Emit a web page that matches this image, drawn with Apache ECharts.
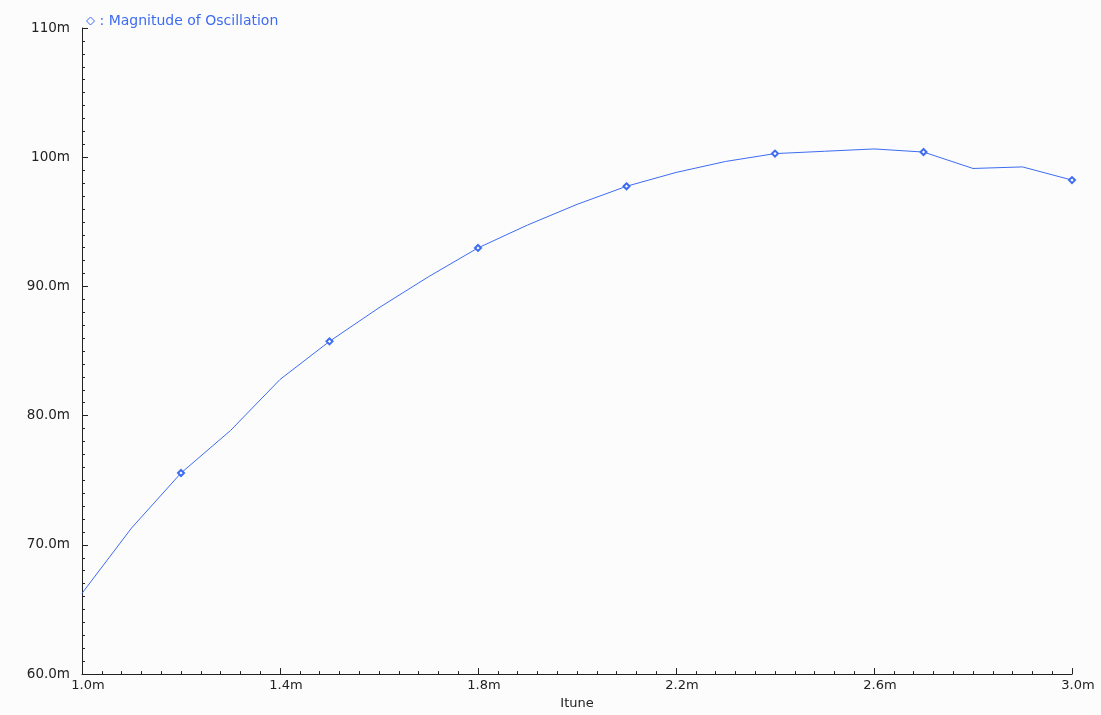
<!DOCTYPE html>
<html>
<head>
<meta charset="utf-8">
<script src="https://cdn.jsdelivr.net/npm/echarts@6/dist/echarts.min.js"></script>
<style>
  html, body { margin: 0; padding: 0; background: #fcfcfc; }
  #chart { width: 1101px; height: 715px; }
</style>
</head>
<body>
<div id="chart"></div>
<script>
// Tuning current (mA) swept from 1.0m to 3.0m
const itune = [1.0, 1.1, 1.2, 1.3, 1.4, 1.5, 1.6, 1.7, 1.8, 1.9, 2.0,
               2.1, 2.2, 2.3, 2.4, 2.5, 2.6, 2.7, 2.8, 2.9, 3.0];
// Oscillation magnitude (m units)
const magnitude = [66.25, 71.3, 75.56, 78.85, 82.8, 85.75, 88.35, 90.75, 92.98, 94.75, 96.35,
                   97.75, 98.82, 99.67, 100.28, 100.46, 100.64, 100.4, 99.13, 99.25, 98.23];
// Sweep points that carry a diamond marker
const markedItune = [1.2, 1.5, 1.8, 2.1, 2.4, 2.7, 3.0];
// Axis tick positions
const xMajorTicks = [1.0, 1.4, 1.8, 2.2, 2.6, 3.0];
const xMinorStep = 0.04;
const yTicks = [60, 70, 80, 90, 100, 110];

const seriesName = 'Magnitude of Oscillation';
const blue = '#3d6cf2';
const ink = '#222222';

const xMinorTicks = [];
for (let i = 0; i <= 50; i++) xMinorTicks.push(+(1.0 + i * xMinorStep).toFixed(2));

const points = itune.map((x, i) => [x, magnitude[i]]);
const isMarked = x => markedItune.some(m => Math.abs(m - x) < 1e-9);

const fmtX = v => v.toFixed(1) + 'm';
const fmtY = v => (v >= 100 ? v.toFixed(0) : v.toFixed(1)) + 'm';

const chart = echarts.init(document.getElementById('chart'), null, { renderer: 'canvas' });
chart.setOption({
  backgroundColor: '#fcfcfc',
  animation: false,
  textStyle: { fontFamily: 'DejaVu Sans', color: ink },
  grid: { left: 82, right: 29, top: 28, bottom: 37, containLabel: false },
  legend: {
    left: 81, top: 9,
    itemWidth: 8, itemHeight: 8,
    icon: 'path://M1,0L2,1L1,2L0,1Z',
    itemStyle: { color: 'transparent', borderColor: blue, borderWidth: 1 },
    formatter: name => ': ' + name,
    textStyle: { color: blue, fontSize: 14, fontFamily: 'DejaVu Sans' },
    data: [seriesName]
  },
  xAxis: [
    {
      type: 'value', min: 1.0, max: 3.0,
      name: 'Itune', nameLocation: 'middle', nameGap: 20,
      nameTextStyle: { fontSize: 13, color: ink },
      axisLine: { show: true, lineStyle: { color: ink, width: 1 } },
      axisTick: { show: true, inside: true, length: 6, customValues: xMajorTicks, lineStyle: { color: ink } },
      axisLabel: { customValues: xMajorTicks, formatter: fmtX, fontSize: 13, color: ink, margin: 5, padding: [0, 0, 0, 12] },
      splitLine: { show: false }
    },
    {
      type: 'value', min: 1.0, max: 3.0, position: 'bottom',
      axisLine: { show: false },
      axisTick: { show: true, inside: true, length: 3, customValues: xMinorTicks, lineStyle: { color: ink } },
      axisLabel: { show: false },
      splitLine: { show: false }
    }
  ],
  yAxis: {
    type: 'value', min: 60, max: 110, interval: 10,
    axisLine: { show: true, lineStyle: { color: ink, width: 1 } },
    axisTick: { show: true, inside: true, length: 6, lineStyle: { color: ink } },
    minorTick: { show: true, splitNumber: 10, length: 3, lineStyle: { color: ink } },
    axisLabel: { formatter: fmtY, fontSize: 13.5, color: ink, margin: 12, padding: [0, 0, 5, 0], customValues: yTicks },
    splitLine: { show: false },
    minorSplitLine: { show: false }
  },
  series: [{
    name: seriesName,
    type: 'line',
    xAxisIndex: 0,
    data: points,
    showAllSymbol: true,
    symbol: value => (isMarked(value[0]) ? 'emptyDiamond' : 'none'),
    symbolSize: 6,
    lineStyle: { color: blue, width: 1 },
    itemStyle: { color: blue, borderColor: blue, borderWidth: 1 },
    emphasis: { disabled: true }
  }]
});
</script>
</body>
</html>
